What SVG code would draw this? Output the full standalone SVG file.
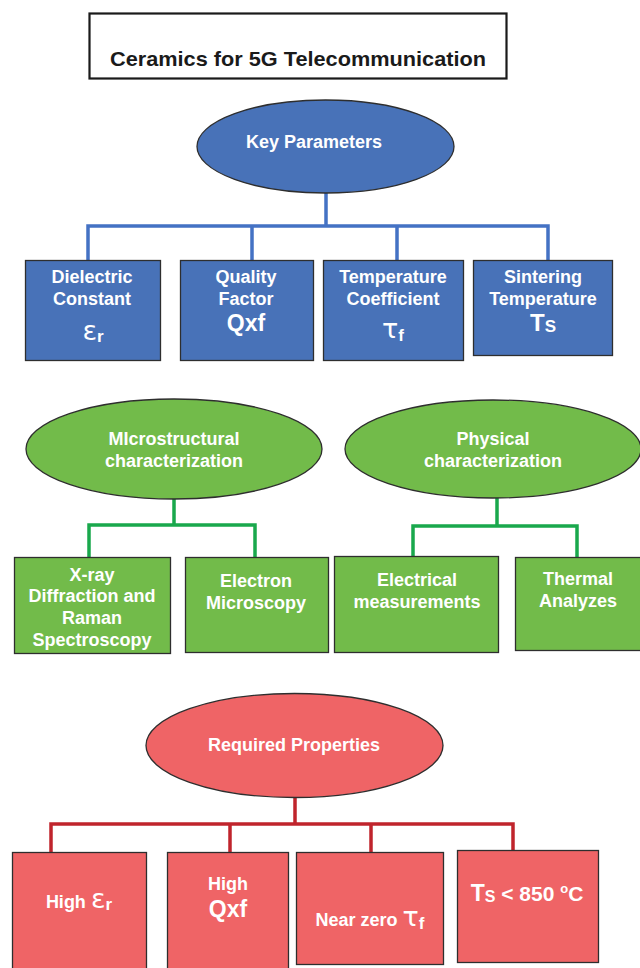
<svg xmlns="http://www.w3.org/2000/svg" width="640" height="968" viewBox="0 0 640 968">
<style>
text{font-family:"Liberation Sans",Arial,sans-serif;font-weight:bold;text-anchor:middle;fill:#fff}
.t{font-size:18px}
.big{font-size:23px}
.sub{font-size:17px}
.gk{font-size:27px;font-family:"DejaVu Sans","Liberation Sans",sans-serif;font-weight:normal}
.node{stroke:#2e2e2e;stroke-width:1.3}
.blue{fill:#4872b8}
.green{fill:#72bb4a}
.red{fill:#ef6466}
.cb{stroke:#4472c4;stroke-width:3.5;fill:none}
.cg{stroke:#19a84c;stroke-width:3.5;fill:none}
.cr{stroke:#c0242c;stroke-width:3.5;fill:none}
</style>
<rect width="640" height="968" fill="#fff"/>
<g id="connectors">
<path class="cb" d="M326 193V226M88 262V226H548V262M252 226V262M397 226V262"/>
<path class="cg" d="M174 498V525M89 559V525H255V559"/>
<path class="cg" d="M497 498V526M413 558V526H577V558"/>
<path class="cr" d="M295 796V824M51 857V824H513V856M230 824V857M371 824V857"/>
</g>
<g id="title">
<rect x="89.5" y="13.5" width="417" height="65" fill="#fff" stroke="#1a1a1a" stroke-width="2.2"/>
<text x="298" y="66" style="fill:#1a1a1a;font-size:20.5px" textLength="376" lengthAdjust="spacingAndGlyphs">Ceramics for 5G Telecommunication</text>
</g>
<g id="key-parameters">
<ellipse class="node blue" cx="325.5" cy="146.5" rx="128.5" ry="46.5"/>
<text class="t" x="314" y="148">Key Parameters</text>
</g>
<g id="dielectric-constant">
<rect class="node blue" x="25.5" y="260.5" width="135" height="100"/>
<text class="t" x="92" y="283">Dielectric</text>
<text class="t" x="92" y="305">Constant</text>
<text x="93" y="340"><tspan class="gk">ε</tspan><tspan class="sub" dy="2">r</tspan></text>
</g>
<g id="quality-factor">
<rect class="node blue" x="180.5" y="260.5" width="133" height="100"/>
<text class="t" x="246" y="283">Quality</text>
<text class="t" x="246" y="305">Factor</text>
<text class="big" x="246" y="331">Qxf</text>
</g>
<g id="temperature-coefficient">
<rect class="node blue" x="323.5" y="260.5" width="140" height="100"/>
<text class="t" x="393" y="283">Temperature</text>
<text class="t" x="393" y="305">Coefficient</text>
<text x="393" y="338"><tspan class="gk">τ</tspan><tspan class="sub" dy="3">f</tspan></text>
</g>
<g id="sintering-temperature">
<rect class="node blue" x="473.5" y="260.5" width="139" height="95"/>
<text class="t" x="543" y="283">Sintering</text>
<text class="t" x="543" y="305">Temperature</text>
<text x="543" y="331" style="font-size:24px">T<tspan class="sub" dy="1">S</tspan></text>
</g>
<g id="microstructural">
<ellipse class="node green" cx="174" cy="449" rx="148" ry="50"/>
<text class="t" x="174" y="445">MIcrostructural</text>
<text class="t" x="174" y="467">characterization</text>
</g>
<g id="physical">
<ellipse class="node green" cx="493" cy="449" rx="148" ry="49"/>
<text class="t" x="493" y="445">Physical</text>
<text class="t" x="493" y="467">characterization</text>
</g>
<g id="xray">
<rect class="node green" x="14.5" y="557.5" width="156" height="96"/>
<text class="t" x="92" y="581">X-ray</text>
<text class="t" x="92" y="602">Diffraction and</text>
<text class="t" x="92" y="624">Raman</text>
<text class="t" x="92" y="646">Spectroscopy</text>
</g>
<g id="electron-microscopy">
<rect class="node green" x="185.5" y="557.5" width="143" height="95"/>
<text class="t" x="256" y="587">Electron</text>
<text class="t" x="256" y="609">Microscopy</text>
</g>
<g id="electrical">
<rect class="node green" x="334.5" y="556.5" width="164" height="96"/>
<text class="t" x="417" y="586">Electrical</text>
<text class="t" x="417" y="608">measurements</text>
</g>
<g id="thermal">
<rect class="node green" x="515.5" y="557.5" width="126" height="93"/>
<text class="t" x="578" y="585">Thermal</text>
<text class="t" x="578" y="607">Analyzes</text>
</g>
<g id="required-properties">
<ellipse class="node red" cx="294.5" cy="745.5" rx="148.5" ry="52"/>
<text class="t" x="294" y="751">Required Properties</text>
</g>
<g id="high-er">
<rect class="node red" x="12.5" y="852.5" width="134" height="118"/>
<text class="t" x="79" y="908">High <tspan class="gk">ε</tspan><tspan class="sub" dy="2">r</tspan></text>
</g>
<g id="high-qxf">
<rect class="node red" x="167.5" y="852.5" width="121" height="118"/>
<text class="t" x="228" y="890">High</text>
<text class="big" x="228" y="917">Qxf</text>
</g>
<g id="near-zero">
<rect class="node red" x="296.5" y="852.5" width="147" height="112"/>
<text class="t" x="370" y="926">Near zero <tspan class="gk">τ</tspan><tspan class="sub" dy="3">f</tspan></text>
</g>
<g id="ts-850">
<rect class="node red" x="457.5" y="850.5" width="141" height="112"/>
<text x="527" y="901" style="font-size:21px"><tspan style="font-size:23px">T</tspan><tspan style="font-size:16px" dy="1">S</tspan><tspan dy="-1"> &lt; 850 </tspan><tspan style="font-size:13px" dy="-8">o</tspan><tspan dy="8">C</tspan></text>
</g>
</svg>
